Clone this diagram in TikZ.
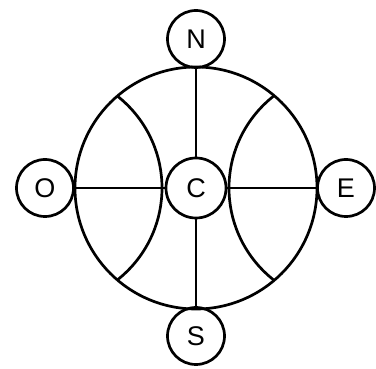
\documentclass[tikz,border=0pt]{standalone}
\usepackage{fontspec}
\setmainfont{Liberation Sans}
\begin{document}
\begin{tikzpicture}[x=1pt,y=-1pt,line width=2.7pt,
  pnode/.style={circle,draw,minimum size=57pt,inner sep=0pt,fill=white,
    font=\fontsize{27}{27}\selectfont},
  cnode/.style={pnode,minimum size=60pt}]
\useasboundingbox (0,0) rectangle (376,369);
\coordinate (ctr) at (196,188);
\node[pnode] (N) at (196,39) {N};
\node[pnode] (S) at (196,336) {S};
\node[pnode] (O) at (45,188) {O};
\node[pnode] (E) at (346,188) {E};
\draw (ctr) circle[radius=121];
\begin{scope}
  \clip (ctr) circle[radius=121];
  \draw (O.center) circle[radius=117];
  \draw (E.center) circle[radius=117];
\end{scope}
\node[cnode] (C) at (196,188) {C};
\draw (O) -- (C);
\draw (C) -- (E);
\draw (N) -- (C);
\draw (C) -- (S);
\end{tikzpicture}
\end{document}
